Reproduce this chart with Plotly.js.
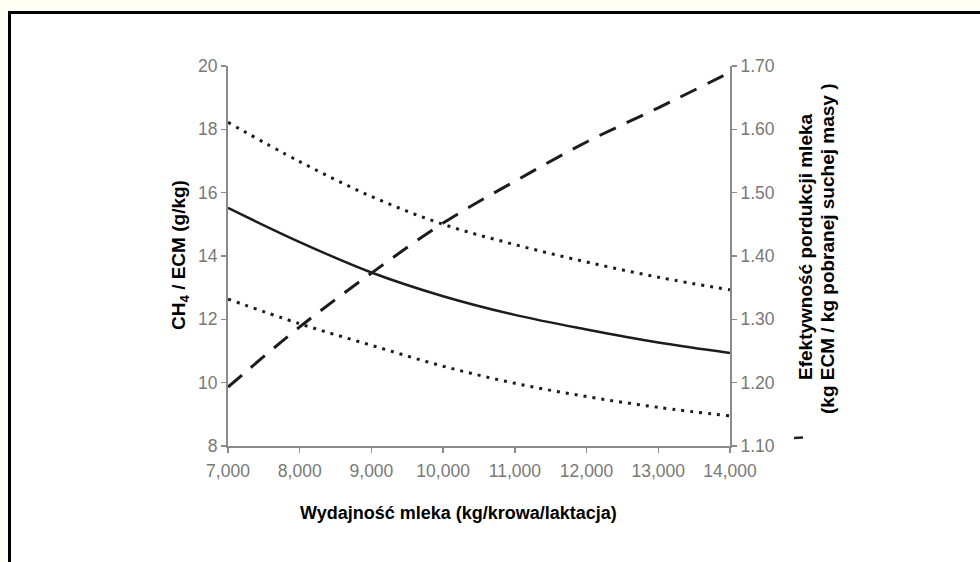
<!DOCTYPE html>
<html>
<head>
<meta charset="utf-8">
<script src="https://cdn.plot.ly/plotly-3.0.1.min.js"></script>
<style>
  html, body { margin: 0; padding: 0; background: #fffff5; width: 980px; height: 562px; overflow: hidden; }
  #frame { position: absolute; left: 8px; top: 11px; width: 1000px; height: 600px; border-top: 3px solid #000; border-left: 3px solid #000; background: #fff; }
  #chart { position: absolute; left: 0; top: 0; width: 980px; height: 562px; }
</style>
</head>
<body>
<div id="frame"></div>
<div id="chart"></div>
<script>
// Milk yield (kg/cow/lactation)
const milkYield = [7000, 8000, 9000, 10000, 11000, 12000, 13000, 14000];
// CH4 / ECM (g/kg) - mean (solid) and bounds (dotted)
const ch4Mean  = [15.52, 14.44, 13.48, 12.73, 12.14, 11.68, 11.27, 10.94];
const ch4Upper = [18.22, 16.98, 15.88, 15.00, 14.36, 13.81, 13.33, 12.93];
const ch4Lower = [12.64, 11.86, 11.18, 10.52, 9.98, 9.56, 9.22, 8.95];
// Production efficiency (kg ECM / kg DMI) - dashed, right axis
const efficiency = [1.193, 1.288, 1.373, 1.452, 1.518, 1.580, 1.634, 1.690];

const xTicks = [7000, 8000, 9000, 10000, 11000, 12000, 13000, 14000];
const yLeftTicks = [8, 10, 12, 14, 16, 18, 20];
const yRightTicks = [1.10, 1.20, 1.30, 1.40, 1.50, 1.60, 1.70];

const lineCol = '#1c1c1c';
const traces = [
  {x: milkYield, y: ch4Upper, mode: 'lines', line: {color: lineCol, width: 3, dash: '3px,6px', shape: 'spline'}, yaxis: 'y'},
  {x: milkYield, y: ch4Mean, mode: 'lines', line: {color: lineCol, width: 2.5, shape: 'spline'}, yaxis: 'y'},
  {x: milkYield, y: ch4Lower, mode: 'lines', line: {color: lineCol, width: 3, dash: '3px,6px', shape: 'spline'}, yaxis: 'y'},
  {x: milkYield, y: efficiency, mode: 'lines', line: {color: lineCol, width: 3, dash: '18px,12px', shape: 'spline'}, yaxis: 'y2'}
];

const axisGray = '#8a8a8a';
const fam = 'Liberation Sans, Arial, sans-serif';
const tickFont = {family: fam, size: 17.5, color: '#787878'};
const xTitleFont = {family: fam, size: 18, color: '#000'};
const yTitleFont = {family: fam, size: 19, color: '#000'};

const L = 228, R = 730;
const px = v => (v - L) / (R - L);
const T = 66, B = 446;
const py = v => (B - v) / (B - T);

const layout = {
  width: 980, height: 562,
  margin: {l: L, r: 980 - R, t: T, b: 562 - B, pad: 0},
  paper_bgcolor: 'rgba(0,0,0,0)',
  plot_bgcolor: 'rgba(0,0,0,0)',
  showlegend: false,
  xaxis: {
    range: [7000, 14000], tickvals: xTicks, tickformat: ',d',
    showline: true, linecolor: axisGray, linewidth: 2,
    ticks: 'outside', ticklen: 5, tickcolor: axisGray, tickwidth: 1.5,
    ticklabelstandoff: 3,
    showgrid: false, zeroline: false, tickfont: tickFont
  },
  yaxis: {
    range: [8, 20], tickvals: yLeftTicks,
    showline: true, linecolor: axisGray, linewidth: 2,
    ticks: 'outside', ticklen: 5, tickcolor: axisGray, tickwidth: 1.5,
    showgrid: false, zeroline: false, tickfont: tickFont
  },
  yaxis2: {
    range: [1.10, 1.70], tickvals: yRightTicks, tickformat: '.2f',
    overlaying: 'y', side: 'right',
    showline: true, linecolor: axisGray, linewidth: 2,
    ticks: 'outside', ticklen: 5, tickcolor: axisGray, tickwidth: 1.5,
    showgrid: false, zeroline: false, tickfont: tickFont
  },
  annotations: [
    {text: '<b>CH<sub>4</sub> / ECM (g/kg)</b>', xref: 'paper', yref: 'paper', x: px(180), y: py(255),
     textangle: -90, showarrow: false, font: yTitleFont, xanchor: 'center', yanchor: 'middle'},
    {text: '<b>Wydajność mleka (kg/krowa/laktacja)</b>', xref: 'paper', yref: 'paper', x: px(458), y: py(513),
     showarrow: false, font: xTitleFont, xanchor: 'center', yanchor: 'middle'},
    {text: '<b>Efektywność pordukcji mleka</b>', xref: 'paper', yref: 'paper', x: px(805), y: py(247),
     textangle: -90, showarrow: false, font: yTitleFont, xanchor: 'center', yanchor: 'middle'},
    {text: '<b>(kg ECM / kg pobranej suchej masy )</b>', xref: 'paper', yref: 'paper', x: px(827), y: py(249),
     textangle: -90, showarrow: false, font: yTitleFont, xanchor: 'center', yanchor: 'middle'}
  ],
  shapes: [
    {type: 'line', xref: 'paper', yref: 'paper', x0: px(794), x1: px(803), y0: py(438), y1: py(437.5),
     line: {color: '#222', width: 2.5}}
  ]
};

Plotly.newPlot('chart', traces, layout, {displayModeBar: false, staticPlot: true});
</script>
</body>
</html>
